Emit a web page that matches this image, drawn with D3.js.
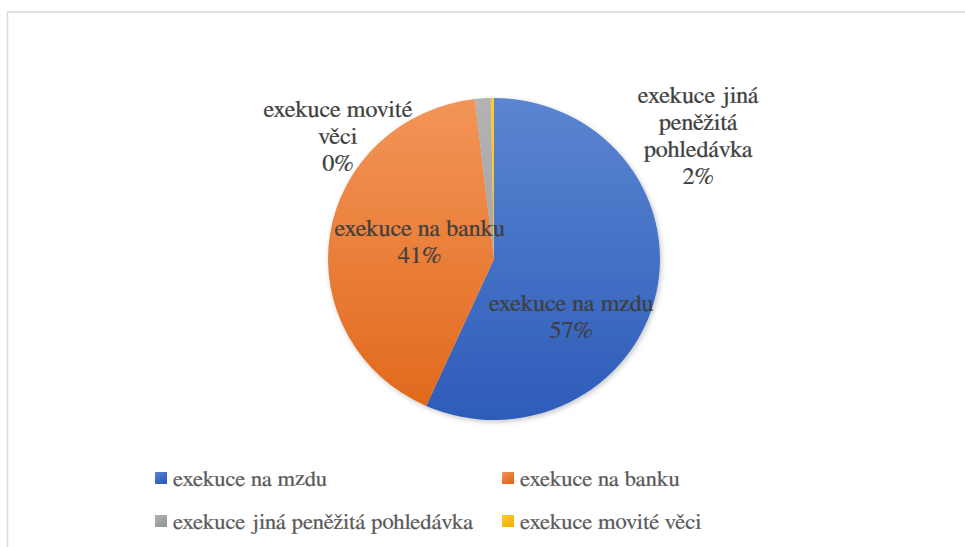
<html>
<head>
  <script src="https://d3js.org/d3.v7.min.js"></script>
  <style>
    body { margin: 0; background: white; }
  </style>
</head>
<body>
  <svg id="chart" width="965" height="547"></svg>
  <script>
    // data
    const categories = ["exekuce na mzdu", "exekuce na banku", "exekuce jiná peněžitá pohledávka", "exekuce movité věci"];
    const values = [56.7, 41.45, 1.55, 0.3];
    // label lines as Excel wrapped them
    const labelLines = [
      ["exekuce na mzdu"],
      ["exekuce na banku"],
      ["exekuce jiná", "peněžitá", "pohledávka"],
      ["exekuce movité", "věci"]
    ];
    const topColors = ["#5b85d1", "#f39559", "#b3b3b3", "#ffcb2e"];
    const bottomColors = ["#2d5cb9", "#e0681a", "#969696", "#f0b400"];

    const serif = "'FreeSerif'";

    const svg = d3.select("#chart");
    const defs = svg.append("defs");

    const cx = 494, cy = 259, ry = 161, stretch = 166 / 161;

    // chart frame
    svg.append("rect")
       .attr("x", 7.5).attr("y", 12)
       .attr("width", 1000).attr("height", 600)
       .attr("fill", "none")
       .attr("stroke", "#d9d9d9")
       .attr("stroke-width", 1.5);

    categories.forEach((c, i) => {
      const g = defs.append("linearGradient")
                    .attr("id", "grad" + i)
                    .attr("gradientUnits", "userSpaceOnUse")
                    .attr("x1", 0).attr("y1", -ry).attr("x2", 0).attr("y2", ry);
      g.append("stop").attr("offset", "0%").attr("stop-color", topColors[i]);
      g.append("stop").attr("offset", "100%").attr("stop-color", bottomColors[i]);

      const g2 = defs.append("linearGradient")
                     .attr("id", "lgrad" + i)
                     .attr("x1", 0).attr("y1", 0).attr("x2", 0.6).attr("y2", 1);
      g2.append("stop").attr("offset", "0%").attr("stop-color", topColors[i]);
      g2.append("stop").attr("offset", "100%").attr("stop-color", bottomColors[i]);
    });

    const shadow = defs.append("filter").attr("id", "shadow")
                       .attr("x", "-10%").attr("y", "-10%").attr("width", "130%").attr("height", "130%");
    shadow.append("feDropShadow")
          .attr("dx", 1.5).attr("dy", 2).attr("stdDeviation", 2.5)
          .attr("flood-color", "#000").attr("flood-opacity", 0.22);

    const total = d3.sum(values);
    const slices = d3.pie().sort(null).value(d => d)(values);
    const arc = d3.arc().innerRadius(0).outerRadius(ry);

    const pieG = svg.append("g")
                    .attr("transform", `translate(${cx},${cy}) scale(${stretch},1)`)
                    .attr("filter", "url(#shadow)");

    pieG.selectAll("path").data(slices)
        .join("path")
        .attr("d", arc)
        .attr("fill", (d, i) => `url(#grad${i})`);

    // label anchors in radius units (first baseline, centre of the text block)
    const labelAnchor = [[0.465, 0.32], [-0.448, -0.14], [1.23, -0.97], [-0.94, -0.88]];
    const lineH = 27;

    slices.forEach((s, i) => {
      const pct = Math.round(s.value / total * 100) + "%";
      const lines = labelLines[i].concat([pct]);
      const lx = cx + labelAnchor[i][0] * ry * stretch;
      const ly = cy + labelAnchor[i][1] * ry;
      const t = svg.append("text")
                   .attr("transform", `translate(${lx},${ly}) scale(${stretch},1)`)
                   .attr("text-anchor", "middle")
                   .style("font-family", serif)
                   .style("font-size", "23.5px")
                   .style("fill", "#3f3f3f")
                   .style("stroke", "#3f3f3f")
                   .style("stroke-width", 0.25);
      lines.forEach((l, j) => {
        t.append("tspan").attr("x", 0).attr("y", j * lineH).text(l);
      });
    });

    // legend
    const legX = d3.scaleOrdinal().domain([0, 1]).range([155, 502]);
    const legY = d3.scaleOrdinal().domain([0, 1]).range([472, 515]);
    const size = 12;

    const legend = svg.append("g");
    categories.forEach((c, i) => {
      const x = legX(i % 2), y = legY(Math.floor(i / 2));
      legend.append("rect")
            .attr("x", x).attr("y", y)
            .attr("width", size).attr("height", size)
            .attr("fill", `url(#lgrad${i})`);
      legend.append("text")
            .attr("transform", `translate(${x + size + 6},${y + size + 2}) scale(${stretch},1)`)
            .style("font-family", serif)
            .style("font-size", "22px")
            .style("fill", "#595959")
            .style("stroke", "#595959")
            .style("stroke-width", 0.2)
            .text(c);
    });
  </script>
</body>
</html>
